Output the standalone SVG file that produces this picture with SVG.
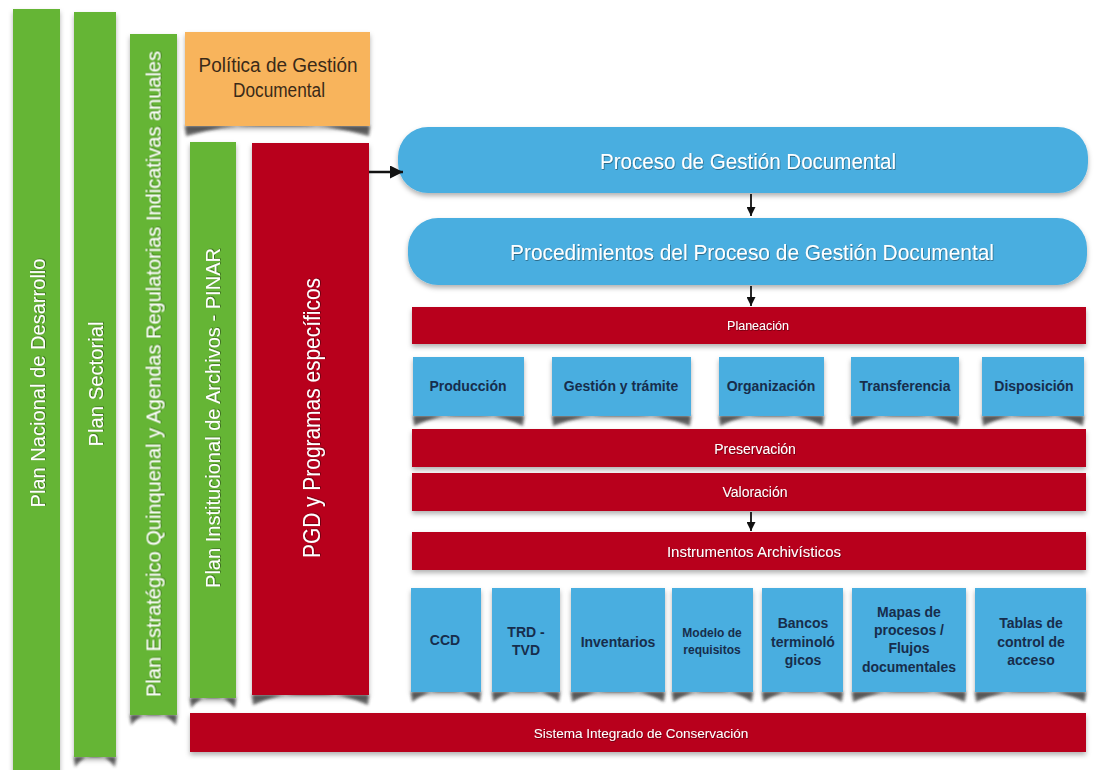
<svg xmlns="http://www.w3.org/2000/svg" width="1098" height="770" viewBox="0 0 1098 770">
<defs>
<filter id="ds" x="-10%" y="-10%" width="120%" height="130%"><feDropShadow dx="0" dy="3" stdDeviation="2.5" flood-color="#000" flood-opacity="0.3"/></filter>
<filter id="bl" x="-10%" y="-50%" width="120%" height="200%"><feGaussianBlur stdDeviation="1.8"/></filter>
<filter id="ts" x="-5%" y="-20%" width="110%" height="140%"><feDropShadow dx="0.6" dy="0.8" stdDeviation="0.6" flood-color="#000" flood-opacity="0.5"/></filter>
<marker id="ahL" viewBox="0 0 10 10" refX="10" refY="5" markerWidth="13" markerHeight="13" orient="auto" markerUnits="userSpaceOnUse"><path d="M0,0 L10,5 L0,10 z" fill="#111"/></marker>
<marker id="ahS" viewBox="0 0 10 10" refX="10" refY="5" markerWidth="9" markerHeight="9" orient="auto" markerUnits="userSpaceOnUse"><path d="M0,0 L10,5 L0,10 z" fill="#111"/></marker>
</defs>
<style>
.g{fill:#65b535;filter:url(#ds)}
.r{fill:#b8001e;filter:url(#ds)}
.b{fill:#4aaee0;filter:url(#ds)}
.o{fill:#f8b45c;filter:url(#ds)}
.curl{fill:#222;opacity:.7;filter:url(#bl)}
.vt{font-family:"Liberation Sans",Arial,sans-serif;fill:#fff;font-size:21px;text-anchor:middle;dominant-baseline:central;filter:url(#ts)}
.wt{font-family:"Liberation Sans",Arial,sans-serif;fill:#fff;text-anchor:middle;dominant-baseline:central;filter:url(#ts)}
.nt{font-family:"Liberation Sans",Arial,sans-serif;font-weight:bold;fill:#172d4c;text-anchor:middle;dominant-baseline:central;font-size:14px}
.ot{font-family:"Liberation Sans",Arial,sans-serif;fill:#3a2a18;text-anchor:middle;dominant-baseline:central;font-size:20px}
.cn{stroke:#111;fill:none}
</style>
<rect width="1098" height="770" fill="#fff"/>

<g id="plan-nacional">
<rect class="g" x="13" y="9" width="47" height="775"/>
<text class="vt" x="37" y="383" transform="rotate(-90 37 383)" textLength="249" lengthAdjust="spacingAndGlyphs">Plan Nacional de Desarrollo</text>
</g>
<g id="plan-sectorial">
<path class="curl" d="M74 757 L116 757 L115 767 Q95 742 75 767 Z"/>
<rect class="g" x="74" y="12" width="42" height="745"/>
<text class="vt" x="95" y="384" transform="rotate(-90 95 384)" textLength="125" lengthAdjust="spacingAndGlyphs">Plan Sectorial</text>
</g>
<g id="plan-estrategico">
<path class="curl" d="M130 715 L177 715 L176 725 Q153.5 700 131 725 Z"/>
<rect class="g" x="130" y="34" width="47" height="681"/>
<text class="vt" x="153.5" y="374" transform="rotate(-90 153.5 374)" style="font-size:20px" textLength="646" lengthAdjust="spacingAndGlyphs">Plan Estratégico Quinquenal y Agendas Regulatorias Indicativas anuales</text>
</g>
<g id="politica">
<path class="curl" d="M185 126 L370 126 L369 136 Q277.5 111 186 136 Z"/>
<rect class="o" x="185" y="32" width="185" height="94"/>
<text class="ot" x="278" y="65" textLength="159" lengthAdjust="spacingAndGlyphs">Política de Gestión</text>
<text class="ot" x="279" y="90" textLength="92" lengthAdjust="spacingAndGlyphs">Documental</text>
</g>
<g id="pinar">
<path class="curl" d="M190 698 L236 698 L235 708 Q213 683 191 708 Z"/>
<rect class="g" x="190" y="142" width="46" height="556"/>
<text class="vt" x="212" y="418" transform="rotate(-90 212 418)" textLength="340" lengthAdjust="spacingAndGlyphs">Plan Institucional de Archivos - PINAR</text>
</g>
<g id="pgd">
<path class="curl" d="M252 695 L369 695 L368 705 Q310.5 680 253 705 Z"/>
<rect class="r" x="252" y="143" width="117" height="552"/>
<text class="vt" x="311" y="418" transform="rotate(-90 311 418)" style="font-size:24px" textLength="280" lengthAdjust="spacingAndGlyphs">PGD y Programas específicos</text>
</g>

<g id="proceso">
<rect class="b" x="398" y="127" width="690" height="66" rx="30"/>
<text class="wt" x="748" y="161" style="font-size:22px" textLength="296" lengthAdjust="spacingAndGlyphs">Proceso de Gestión Documental</text>
</g>
<g id="procedimientos">
<rect class="b" x="408" y="218" width="679" height="67" rx="30"/>
<text class="wt" x="752" y="252" style="font-size:22px" textLength="484" lengthAdjust="spacingAndGlyphs">Procedimientos del Proceso de Gestión Documental</text>
</g>
<g id="planeacion">
<rect class="r" x="412" y="307" width="674" height="37"/>
<text class="wt" x="758" y="326" style="font-size:12.5px">Planeación</text>
</g>

<g id="produccion">
<path class="curl" d="M413 416 L524 416 L523 426 Q468.5 401 414 426 Z"/>
<rect class="b" x="413" y="357" width="111" height="59"/>
<text class="nt" x="468" y="386">Producción</text>
</g>
<g id="gestion">
<path class="curl" d="M552 416 L691 416 L690 426 Q621.5 401 553 426 Z"/>
<rect class="b" x="552" y="357" width="139" height="59"/>
<text class="nt" x="621" y="386">Gestión y trámite</text>
</g>
<g id="organizacion">
<path class="curl" d="M719 416 L824 416 L823 426 Q771.5 401 720 426 Z"/>
<rect class="b" x="719" y="357" width="105" height="59"/>
<text class="nt" x="771" y="386">Organización</text>
</g>
<g id="transferencia">
<path class="curl" d="M851 416 L959 416 L958 426 Q905 401 852 426 Z"/>
<rect class="b" x="851" y="357" width="108" height="59"/>
<text class="nt" x="905" y="386">Transferencia</text>
</g>
<g id="disposicion">
<path class="curl" d="M982 416 L1084 416 L1083 426 Q1033 401 983 426 Z"/>
<rect class="b" x="982" y="357" width="102" height="59"/>
<text class="nt" x="1034" y="386">Disposición</text>
</g>

<g id="preservacion">
<rect class="r" x="412" y="429" width="674" height="38"/>
<text class="wt" x="755" y="449" style="font-size:14px">Preservación</text>
</g>
<g id="valoracion">
<rect class="r" x="412" y="473" width="674" height="38"/>
<text class="wt" x="755" y="492" style="font-size:14px">Valoración</text>
</g>
<g id="instrumentos">
<rect class="r" x="412" y="532" width="674" height="38"/>
<text class="wt" x="754" y="551" style="font-size:15px">Instrumentos Archivísticos</text>
</g>

<g id="ccd">
<path class="curl" d="M411 692 L481 692 L480 702 Q446 677 412 702 Z"/>
<rect class="b" x="411" y="588" width="70" height="104"/>
<text class="nt" x="445" y="640">CCD</text>
</g>
<g id="trd">
<path class="curl" d="M492 692 L560 692 L559 702 Q526 677 493 702 Z"/>
<rect class="b" x="492" y="588" width="68" height="104"/>
<text class="nt" x="526" y="632">TRD -</text>
<text class="nt" x="526" y="650">TVD</text>
</g>
<g id="inventarios">
<path class="curl" d="M571 692 L665 692 L664 702 Q618 677 572 702 Z"/>
<rect class="b" x="571" y="588" width="94" height="104"/>
<text class="nt" x="618" y="642">Inventarios</text>
</g>
<g id="modelo">
<path class="curl" d="M672 692 L753 692 L752 702 Q712.5 677 673 702 Z"/>
<rect class="b" x="672" y="588" width="81" height="104"/>
<text class="nt" x="712" y="633" style="font-size:12px">Modelo de</text>
<text class="nt" x="712" y="650" style="font-size:12px">requisitos</text>
</g>
<g id="bancos">
<path class="curl" d="M762 692 L843 692 L842 702 Q802.5 677 763 702 Z"/>
<rect class="b" x="762" y="588" width="81" height="104"/>
<text class="nt" x="803" y="623">Bancos</text>
<text class="nt" x="803" y="642">terminoló</text>
<text class="nt" x="803" y="660">gicos</text>
</g>
<g id="mapas">
<path class="curl" d="M852 692 L966 692 L965 702 Q909 677 853 702 Z"/>
<rect class="b" x="852" y="588" width="114" height="104"/>
<text class="nt" x="909" y="612">Mapas de</text>
<text class="nt" x="909" y="630">procesos /</text>
<text class="nt" x="909" y="648">Flujos</text>
<text class="nt" x="909" y="667">documentales</text>
</g>
<g id="tablas">
<path class="curl" d="M975 692 L1086 692 L1085 702 Q1030.5 677 976 702 Z"/>
<rect class="b" x="975" y="588" width="111" height="104"/>
<text class="nt" x="1031" y="623">Tablas de</text>
<text class="nt" x="1031" y="642">control de</text>
<text class="nt" x="1031" y="660">acceso</text>
</g>

<g id="sistema">
<rect class="r" x="190" y="713" width="896" height="39"/>
<text class="wt" x="641" y="733" style="font-size:13.5px">Sistema Integrado de Conservación</text>
</g>

<g id="connectors">
<line class="cn" x1="369" y1="172" x2="403" y2="172" stroke-width="2.5" marker-end="url(#ahL)"/>
<line class="cn" x1="751" y1="194" x2="751" y2="216" stroke-width="1.8" marker-end="url(#ahS)"/>
<line class="cn" x1="751" y1="286" x2="751" y2="306" stroke-width="1.8" marker-end="url(#ahS)"/>
<line class="cn" x1="751" y1="512" x2="751" y2="531" stroke-width="1.8" marker-end="url(#ahS)"/>
</g>
</svg>
